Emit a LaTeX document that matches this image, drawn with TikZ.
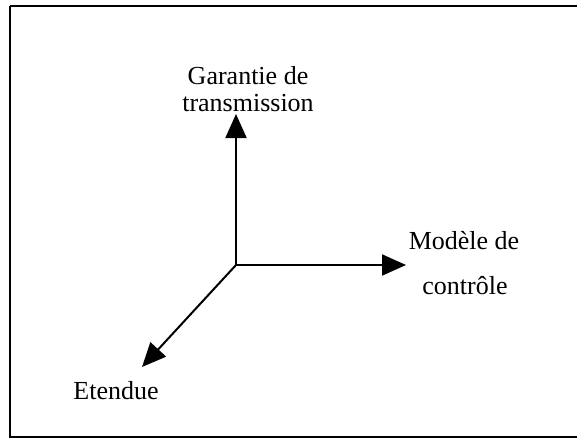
\documentclass[tikz,border=0pt]{standalone}
\usepackage{fontspec}
\setmainfont{Liberation Serif}
\usetikzlibrary{arrows.meta}
\begin{document}
\begin{tikzpicture}[x=1pt,y=-1pt,
  lbl/.style={font=\fontsize{26}{28}\selectfont, inner sep=0pt, anchor=center},
  axis/.style={line width=2pt, -{Triangle[length=24pt,width=21pt]}}]
\useasboundingbox (0,0) rectangle (577,439);
\draw[line width=2.5pt] (10,6) -- (578,6) (10,6) -- (10,437) -- (578,437);
\coordinate (O) at (236,265);
\coordinate (up) at (236,114);
\coordinate (right) at (406,265);
\coordinate (diag) at (142,367);
\draw[axis] (O) -- (up);
\draw[axis] (O) -- (right);
\draw[axis] (O) -- (diag);
\node[lbl] (g1) at (248,76) {Garantie de};
\node[lbl] (g2) at (248,103) {transmission};
\node[lbl] (m1) at (464,241) {Modèle de};
\node[lbl] (m2) at (465,286) {contrôle};
\node[lbl] (e) at (116,391) {Etendue};
\end{tikzpicture}
\end{document}
